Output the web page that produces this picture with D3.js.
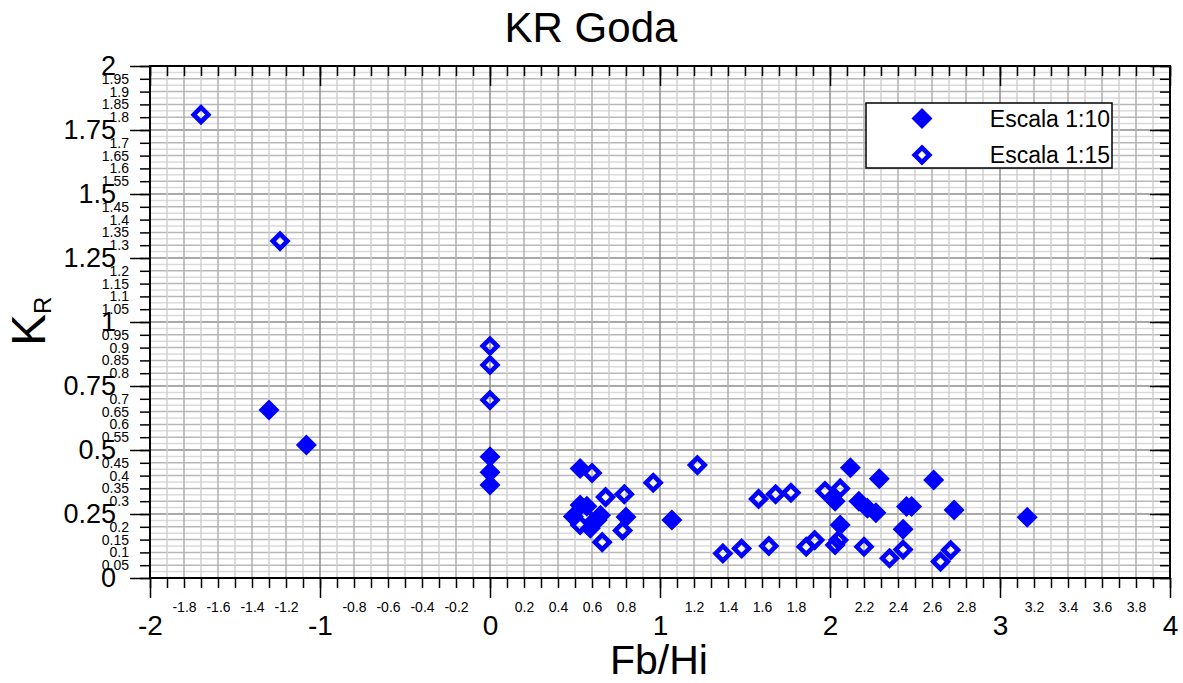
<!DOCTYPE html>
<html>
<head>
<meta charset="utf-8">
<script src="https://cdn.jsdelivr.net/npm/d3@7"></script>
<style>
  body { margin: 0; background: #fff; }
  text { font-family: "Liberation Sans", Arial, sans-serif; }
</style>
</head>
<body>
<div class="chart"></div>
<script>
// Escala 1:10 (filled diamonds)
let fbHi10 = [-1.30, -1.08, 0, 0, 0, 0.53, 0.53, 0.57, 0.49, 0.63, 0.59, 0.65, 0.80, 1.07,
              2.12, 2.29, 2.61, 2.03, 2.17, 2.22, 2.27, 2.06, 2.43, 2.45, 2.48, 2.73, 3.16];
let kr10   = [0.656, 0.52, 0.474, 0.413, 0.363, 0.428, 0.285, 0.28, 0.24, 0.227, 0.194, 0.245, 0.238, 0.227,
              0.431, 0.388, 0.383, 0.30, 0.30, 0.272, 0.255, 0.207, 0.190, 0.279, 0.279, 0.266, 0.237];

// Escala 1:15 (open diamonds)
let fbHi15 = [-1.70, -1.235, 0, 0, 0, 0.60, 1.22, 0.96, 0.68, 0.79, 0.53, 0.56, 0.78, 0.66,
              1.37, 1.48, 1.64, 1.58, 1.68, 1.77, 1.86, 1.91, 1.97, 2.06, 2.03, 2.05, 2.20,
              2.35, 2.43, 2.65, 2.71];
let kr15   = [1.81, 1.316, 0.906, 0.832, 0.695, 0.41, 0.441, 0.372, 0.316, 0.327, 0.207, 0.245, 0.186, 0.14,
              0.096, 0.115, 0.125, 0.309, 0.327, 0.333, 0.122, 0.148, 0.34, 0.35, 0.129, 0.148, 0.122,
              0.077, 0.111, 0.064, 0.109];

let seriesNames = ["Escala 1:10", "Escala 1:15"];

// tick labels
let xMajor = [-2, -1, 0, 1, 2, 3, 4];
let xMinorLabels = [-1.8, -1.6, -1.4, -1.2, -0.8, -0.6, -0.4, -0.2, 0.2, 0.4, 0.6, 0.8,
                    1.2, 1.4, 1.6, 1.8, 2.2, 2.4, 2.6, 2.8, 3.2, 3.4, 3.6, 3.8];
let yMajor = [0, 0.25, 0.5, 0.75, 1, 1.25, 1.5, 1.75, 2];
let yMinorLabels = [0.05, 0.1, 0.15, 0.2, 0.3, 0.35, 0.4, 0.45, 0.55, 0.6, 0.65, 0.7,
                    0.8, 0.85, 0.9, 0.95, 1.05, 1.1, 1.15, 1.2, 1.3, 1.35, 1.4, 1.45,
                    1.55, 1.6, 1.65, 1.7, 1.8, 1.85, 1.9, 1.95];

let width = 1183, height = 683;
let plot = {left: 150, right: 1170, top: 66, bottom: 578};

const svg = d3.select(".chart").append("svg")
  .attr("width", width).attr("height", height);

let x = d3.scaleLinear().domain([-2, 4]).range([plot.left, plot.right]);
let y = d3.scaleLinear().domain([0, 2]).range([plot.bottom, plot.top]);

let xMinorTicks = d3.range(-20, 41).map(i => i / 10);
let yMinorTicks = d3.range(0, 41).map(i => i / 20);
let yGrid = d3.range(0, 81).map(i => i / 40);

// grid
let grid = svg.append("g");
grid.selectAll(".hg").data(yGrid).enter().append("line")
  .attr("x1", plot.left).attr("x2", plot.right)
  .attr("y1", d => y(d)).attr("y2", d => y(d))
  .attr("stroke", (d, i) => i % 10 == 0 ? "#8c8c8c" : (i % 2 == 0 ? "#b8b8b8" : "#dadada"))
  .attr("stroke-width", 1.5);
grid.selectAll(".vg").data(xMinorTicks).enter().append("line")
  .attr("y1", plot.top).attr("y2", plot.bottom)
  .attr("x1", d => x(d)).attr("x2", d => x(d))
  .attr("stroke", (d, i) => i % 10 == 0 ? "#8c8c8c" : (i % 2 == 0 ? "#b0b0b0" : "#d0d0d0"))
  .attr("stroke-width", 1.5);

let fmt = v => String(+v.toFixed(2));

// bottom axis
let gxMinor = svg.append("g").attr("transform", "translate(0," + plot.bottom + ")")
  .call(d3.axisBottom(x).tickValues(xMinorTicks).tickSizeInner(10).tickSizeOuter(0).tickPadding(14)
    .tickFormat(d => xMinorLabels.some(v => Math.abs(v - d) < 1e-6) ? fmt(d) : ""));
gxMinor.selectAll("text").style("font-size", "14px");
let gxMajor = svg.append("g").attr("transform", "translate(0," + plot.bottom + ")")
  .call(d3.axisBottom(x).tickValues(xMajor).tickSizeInner(20).tickSizeOuter(0).tickPadding(17).tickFormat(fmt));
gxMajor.selectAll("text").style("font-size", "28px");

// left axis
let gyMinor = svg.append("g").attr("transform", "translate(" + plot.left + ",0)")
  .call(d3.axisLeft(y).tickValues(yMinorTicks).tickSizeInner(10).tickSizeOuter(0).tickPadding(11)
    .tickFormat(d => yMinorLabels.some(v => Math.abs(v - d) < 1e-6) ? fmt(d) : ""));
gyMinor.selectAll("text").style("font-size", "14px");
let gyMajor = svg.append("g").attr("transform", "translate(" + plot.left + ",0)")
  .call(d3.axisLeft(y).tickValues(yMajor).tickSizeInner(20).tickSizeOuter(0).tickPadding(14).tickFormat(fmt));
gyMajor.selectAll("text").style("font-size", "27px");

// top and right axes, ticks inside
svg.append("g").attr("transform", "translate(0," + plot.top + ")")
  .call(d3.axisTop(x).tickValues(xMinorTicks).tickSizeInner(-10).tickSizeOuter(0).tickFormat(""));
svg.append("g").attr("transform", "translate(0," + plot.top + ")")
  .call(d3.axisTop(x).tickValues(xMajor).tickSizeInner(-20).tickSizeOuter(0).tickFormat(""));
svg.append("g").attr("transform", "translate(" + plot.right + ",0)")
  .call(d3.axisRight(y).tickValues(yMinorTicks).tickSizeInner(-10).tickSizeOuter(0).tickFormat(""));
svg.append("g").attr("transform", "translate(" + plot.right + ",0)")
  .call(d3.axisRight(y).tickValues(yMajor).tickSizeInner(-20).tickSizeOuter(0).tickFormat(""));

svg.selectAll(".tick line").attr("stroke", "#000").attr("stroke-width", 1.5);
svg.selectAll(".domain").remove();

svg.append("rect")
  .attr("x", plot.left).attr("y", plot.top)
  .attr("width", plot.right - plot.left).attr("height", plot.bottom - plot.top)
  .attr("fill", "none").attr("stroke", "#000").attr("stroke-width", 2);

// markers
let diamond = (cx, cy, r) => "M" + cx + "," + (cy - r) + "L" + (cx + r) + "," + cy +
  "L" + cx + "," + (cy + r) + "L" + (cx - r) + "," + cy + "Z";

let pts10 = fbHi10.map((v, i) => ({x: v, y: kr10[i]}));
let pts15 = fbHi15.map((v, i) => ({x: v, y: kr15[i]}));

svg.append("g").selectAll("path").data(pts10).enter().append("path")
  .attr("d", d => diamond(x(d.x), y(d.y), 10.5))
  .attr("fill", "#0000ff");

svg.append("g").selectAll("path").data(pts15).enter().append("path")
  .attr("d", d => diamond(x(d.x), y(d.y), 7.3))
  .attr("fill", "#fff").attr("fill-opacity", 0)
  .attr("stroke", "#0000ff").attr("stroke-width", 4.6).attr("stroke-linejoin", "miter");

// legend
let lg = svg.append("g");
lg.append("rect").attr("x", 866).attr("y", 103).attr("width", 246).attr("height", 65)
  .attr("fill", "#fff").attr("stroke", "#000").attr("stroke-width", 1.5);
lg.append("path").attr("d", diamond(922, 118.5, 10.5)).attr("fill", "#0000ff");
lg.append("path").attr("d", diamond(922, 155, 7.3)).attr("fill", "none")
  .attr("stroke", "#0000ff").attr("stroke-width", 4.6);
lg.selectAll("text").data(seriesNames).enter().append("text")
  .attr("x", 1110).attr("y", (d, i) => i == 0 ? 127 : 163)
  .attr("text-anchor", "end").style("font-size", "23px").text(d => d);

// titles
svg.append("text").attr("x", 591).attr("y", 42).attr("text-anchor", "middle")
  .style("font-size", "42px").text("KR Goda");
svg.append("text").attr("x", 659).attr("y", 674).attr("text-anchor", "middle")
  .style("font-size", "41px").text("Fb/Hi");
let yt = svg.append("text").attr("transform", "translate(45,346) rotate(-90)")
  .style("font-size", "48px");
yt.append("tspan").text("K");
yt.append("tspan").attr("dy", 6).style("font-size", "24px").text("R");
</script>
</body>
</html>
